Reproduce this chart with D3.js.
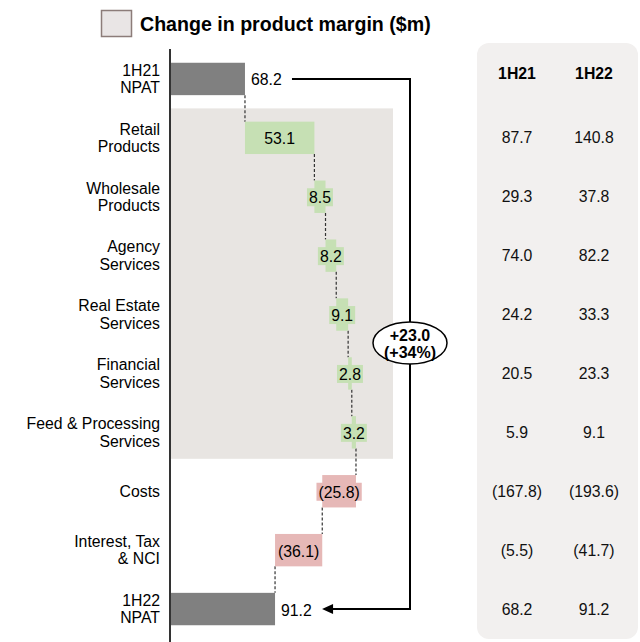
<!DOCTYPE html>
<html><head><meta charset="utf-8">
<script src="https://cdn.jsdelivr.net/npm/d3@7"></script>
<style>body{margin:0;background:#fff}svg{display:block;font-family:"Liberation Sans",Arial,sans-serif}</style>
</head><body><svg id="c" width="640" height="642"></svg>
<script>
const categories = ["1H21|NPAT","Retail|Products","Wholesale|Products","Agency|Services","Real Estate|Services","Financial|Services","Feed & Processing|Services","Costs","Interest, Tax|& NCI","1H22|NPAT"];
const changes = [68.2, 53.1, 8.5, 8.2, 9.1, 2.8, 3.2, -25.8, -36.1, 91.2];
const kinds = ["total","up","up","up","up","up","up","down","down","total"];
const tableHeaders = ["1H21","1H22"];
const col1H21 = ["87.7","29.3","74.0","24.2","20.5","5.9","(167.8)","(5.5)","68.2"];
const col1H22 = ["140.8","37.8","82.2","33.3","23.3","9.1","(193.6)","(41.7)","91.2"];
const legendText = "Change in product margin ($m)";
const calloutLines = ["+23.0","(+34%)"];

const FS = 15.8;
const svg = d3.select("#c");
const x = d3.scaleLinear().domain([0, 160]).range([155.8, 365]);
const y = d3.scaleBand().domain(categories).range([49.5, 638.5]).padding(0);
const barH = y.bandwidth()*0.55;
const colors = {total:"#808080", up:"#c6e0b4", down:"#e6b8b7"};

let cum = 0;
const rows = categories.map((c,i)=>{
  let s,e;
  if(kinds[i]==="total"){ s=0; e=changes[i]; cum=changes[i]; }
  else { s=cum; e=cum+changes[i]; cum=e; }
  return {c, v:changes[i], k:kinds[i], s, e};
});

// legend
svg.append("rect").attr("x",101.5).attr("y",10.5).attr("width",30).attr("height",26)
  .attr("fill","#e9e5e5").attr("stroke","#8c7c79").attr("stroke-width",1.5);
svg.append("text").attr("x",140).attr("y",31).attr("font-size",19.6).attr("font-weight","bold")
  .attr("fill","#000").text(legendText);

// table panel
svg.append("rect").attr("x",477).attr("y",43).attr("width",161).attr("height",596)
  .attr("rx",12).attr("fill","#f2f0ef");
const tx = [517, 594];
tableHeaders.forEach((h,j)=>svg.append("text").attr("x",tx[j]).attr("y",y(categories[0])+y.bandwidth()/2-5)
  .attr("text-anchor","middle").attr("dominant-baseline","central").attr("font-size",FS).attr("font-weight","bold").text(h));
[col1H21,col1H22].forEach((col,j)=>col.forEach((v,i)=>{
  svg.append("text").attr("x",tx[j]).attr("y",y(categories[i+1])+y.bandwidth()/2)
    .attr("text-anchor","middle").attr("dominant-baseline","central").attr("font-size",FS).attr("fill","#111").text(v);
}));

// shaded region
const shadeTop = y(categories[1]), shadeBot = y(categories[6])+y.bandwidth()-3;
svg.append("rect").attr("x",171).attr("y",shadeTop).attr("width",393-171).attr("height",shadeBot-shadeTop).attr("fill","#e8e5e2");

svg.append("clipPath").attr("id","clip").append("rect").attr("x",171).attr("y",0).attr("width",470).attr("height",642);

const g = svg.append("g");
rows.forEach((r,i)=>{
  if(i===rows.length-1) return;
  const nx = x(r.e);
  g.append("line").attr("x1",nx).attr("x2",nx)
    .attr("y1",y(r.c)+y.bandwidth()/2+barH/2).attr("y2",y(rows[i+1].c)+y.bandwidth()/2-barH/2)
    .attr("stroke","#333").attr("stroke-width",1.2).attr("stroke-dasharray","3,2");
});
g.selectAll("rect.bar").data(rows).join("rect").attr("class","bar")
  .attr("clip-path","url(#clip)")
  .attr("x",d=>x(Math.min(d.s,d.e))).attr("width",d=>Math.abs(x(d.e)-x(d.s)))
  .attr("y",d=>y(d.c)+y.bandwidth()/2-barH/2).attr("height",barH)
  .attr("fill",d=>colors[d.k]);
rows.forEach(r=>{
  const cy = y(r.c)+y.bandwidth()/2;
  const txt = r.v<0 ? "("+Math.abs(r.v).toFixed(1)+")" : r.v.toFixed(1);
  if(r.k==="total"){
    g.append("text").attr("x",x(r.e)+6).attr("y",cy+1).attr("dominant-baseline","central")
      .attr("font-size",FS).attr("fill","#000").text(txt);
  } else {
    const cx = (x(r.s)+x(r.e))/2;
    const t = g.append("text").attr("x",cx).attr("y",cy+1).attr("text-anchor","middle").attr("dominant-baseline","central")
      .attr("font-size",FS).attr("fill","#000").text(txt);
    const w = t.node().getComputedTextLength()+4;
    g.insert("rect","text").attr("x",cx-w/2).attr("y",cy-8.5).attr("width",w).attr("height",18).attr("fill",colors[r.k]);
  }
});

svg.append("line").attr("x1",170).attr("x2",170).attr("y1",49).attr("y2",642).attr("stroke","#333").attr("stroke-width",2);

categories.forEach(c=>{
  const lines = c.split("|");
  const cy = y(c)+y.bandwidth()/2;
  const t = svg.append("text").attr("text-anchor","end").attr("font-size",FS).attr("fill","#000");
  lines.forEach((l,k)=>t.append("tspan").attr("x",160).attr("y",cy + (k-(lines.length-1)/2)*17.5).attr("dominant-baseline","central").text(l));
});

const yTop = y(categories[0])+y.bandwidth()/2, yBot = y(categories[9])+y.bandwidth()/2;
const lx = 410;
svg.append("path").attr("d",`M${x(changes[0])+47},${yTop}H${lx}V${yBot}H${x(changes[9])+57}`)
  .attr("fill","none").attr("stroke","#000").attr("stroke-width",2);
const tip = x(changes[9])+47;
svg.append("path").attr("d",`M${tip},${yBot}L${tip+11},${yBot-5}L${tip+11},${yBot+5}Z`).attr("fill","#000");
svg.append("ellipse").attr("cx",lx).attr("cy",343).attr("rx",37).attr("ry",21).attr("fill","#fff").attr("stroke","#000").attr("stroke-width",1.5);
calloutLines.forEach((l,k)=>svg.append("text").attr("x",lx).attr("y",335+k*17).attr("text-anchor","middle").attr("dominant-baseline","central")
  .attr("font-size",16).attr("font-weight","bold").text(l));
</script></body></html>
